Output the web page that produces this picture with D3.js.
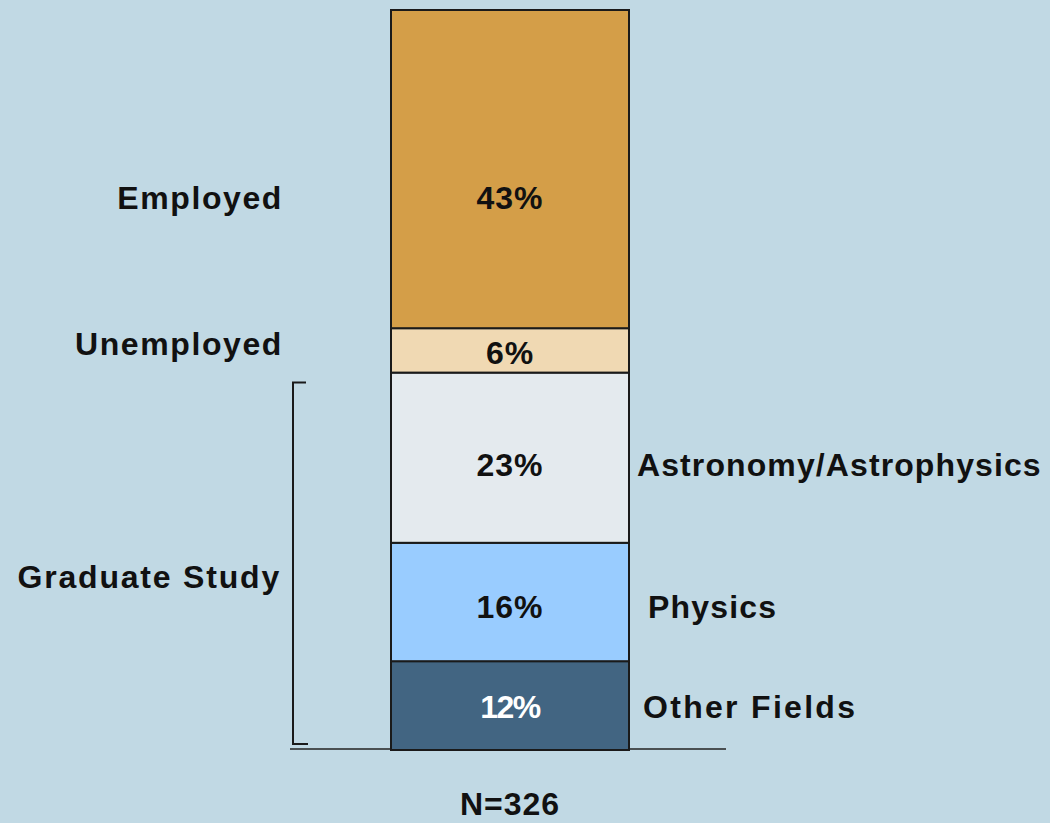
<!DOCTYPE html>
<html>
<head>
<meta charset="utf-8">
<script src="https://cdn.jsdelivr.net/npm/d3@7"></script>
<style>
  body { margin: 0; background: #c1d9e4; }
  svg { display: block; }
  text { font-family: "Liberation Sans", Arial, sans-serif; font-weight: bold; }
</style>
</head>
<body>
<div id="chart"></div>
<script>
// segments bottom to top
const categories = ['Other Fields', 'Physics', 'Astronomy/Astrophysics', 'Unemployed', 'Employed'];
const values = [12, 16, 23, 6, 43];
const colors = ['#426582', '#99ccff', '#e4eaee', '#f0d9b3', '#d49e48'];
const labelColors = ['#ffffff', '#111111', '#111111', '#111111', '#111111'];
const groupLabel = 'Graduate Study';
const totalLabel = 'N=326';

const width = 1050, height = 823;
const barX = 391, barW = 238;
const fs = 32;

const svg = d3.select('#chart').append('svg')
    .attr('width', width)
    .attr('height', height);

svg.append('rect').attr('width', width).attr('height', height).attr('fill', '#c1d9e4');

const y = d3.scaleLinear()
    .domain([0, d3.sum(values)])
    .range([750, 10]);

// cumulative stack
let acc = 0;
const stack = values.map((v, i) => {
    const s = { name: categories[i], value: v, y0: acc, y1: acc + v, color: colors[i], lc: labelColors[i] };
    acc += v;
    return s;
});

// baseline
svg.append('line')
    .attr('x1', 290).attr('x2', 726)
    .attr('y1', y(0) - 1).attr('y2', y(0) - 1)
    .attr('stroke', '#222').attr('stroke-width', 1.5);

svg.selectAll('rect.seg')
    .data(stack)
    .enter().append('rect')
    .attr('class', 'seg')
    .attr('x', barX)
    .attr('width', barW)
    .attr('y', d => y(d.y1))
    .attr('height', d => y(d.y0) - y(d.y1))
    .attr('fill', d => d.color)
    .attr('stroke', '#1a1a1a')
    .attr('stroke-width', 2);

// small nudges so labels sit where the original put them
const pctShift = [1, 4, 7, 2, 28];
svg.selectAll('text.pct')
    .data(stack)
    .enter().append('text')
    .attr('class', 'pct')
    .attr('x', barX + barW / 2)
    .attr('y', (d, i) => (y(d.y0) + y(d.y1)) / 2 + pctShift[i])
    .attr('dy', '0.36em')
    .attr('text-anchor', 'middle')
    .attr('font-size', fs)
    .attr('letter-spacing', (d, i) => i === 0 ? -1.5 : 1)
    .attr('fill', d => d.lc)
    .text(d => d.value + '%');

// right side labels (graduate study breakdown)
const rightX = [643, 648, 637];
const rightShift = [1, 4, 7];
const rightSpacing = [2.3, 1.2, 1.1];
stack.slice(0, 3).forEach((d, i) => {
    svg.append('text')
        .attr('x', rightX[i])
        .attr('y', (y(d.y0) + y(d.y1)) / 2 + rightShift[i])
        .attr('dy', '0.36em')
        .attr('font-size', fs)
        .attr('letter-spacing', rightSpacing[i])
        .attr('fill', '#111')
        .text(d.name);
});

// left side labels
const leftShift = [-7, 28];
stack.slice(3).forEach((d, i) => {
    svg.append('text')
        .attr('x', 283)
        .attr('y', (y(d.y0) + y(d.y1)) / 2 + leftShift[i])
        .attr('dy', '0.36em')
        .attr('text-anchor', 'end')
        .attr('font-size', fs)
        .attr('letter-spacing', 1.6)
        .attr('fill', '#111')
        .text(d.name);
});

// bracket for graduate study
const gTop = y(stack[2].y1) + 10, gBot = y(0) - 6;
svg.append('path')
    .attr('d', `M306,${gTop} H293 V${gBot} H308`)
    .attr('fill', 'none')
    .attr('stroke', '#1a1a1a')
    .attr('stroke-width', 2);

svg.append('text')
    .attr('x', 281)
    .attr('y', (gTop + gBot) / 2 + 13)
    .attr('dy', '0.36em')
    .attr('text-anchor', 'end')
    .attr('font-size', fs)
    .attr('letter-spacing', 1.8)
    .attr('fill', '#111')
    .text(groupLabel);

svg.append('text')
    .attr('x', barX + barW / 2)
    .attr('y', 803)
    .attr('dy', '0.36em')
    .attr('text-anchor', 'middle')
    .attr('font-size', fs)
    .attr('letter-spacing', 1)
    .attr('fill', '#111')
    .text(totalLabel);
</script>
</body>
</html>
